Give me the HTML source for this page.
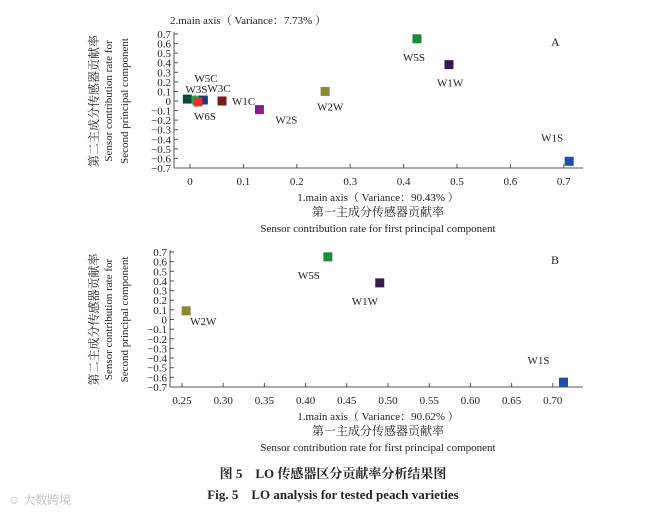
<!DOCTYPE html>
<html><head><meta charset="utf-8"><style>
body{margin:0;background:#fff;width:665px;height:513px;overflow:hidden}
svg{display:block}
text{font-family:"Liberation Serif","Noto Serif CJK SC",serif;fill:#222}
</style></head><body>
<svg id="svg" width="665" height="513">
<g id="top"></g>
<g id="bot"></g>
<text x="333" y="478" font-size="13" font-weight="bold" text-anchor="middle">图 5　LO 传感器区分贡献率分析结果图</text>
<text x="333" y="499" font-size="13" font-weight="bold" text-anchor="middle">Fig. 5　LO analysis for tested peach varieties</text>
<text x="8" y="504" font-size="12" fill="#bbb" style="fill:#bbb">☺ 大数跨境</text>
</svg>
<script>
const aNames=["W3S","W5C","W3C","W6S","W1C","W2S","W2W","W5S","W1W","W1S"];
const aX=[-0.005,0.012,0.025,0.015,0.06,0.13,0.253,0.425,0.485,0.71];
const aY=[0.02,0.01,0.01,-0.01,0,-0.09,0.1,0.65,0.38,-0.63];
const aColors=["#0b4a3a","#2fa84a","#1a3a7a","#d33","#7a1a1a","#8a1a8a","#8a8a30","#1e8a3a","#3a1a4a","#1e4fa8"];
const aLabelDX=[-2,-2,4,-4,10,16,-8,-14,-12,-28];
const aLabelDY=[-6,-18,-8,18,4,14,19,22,22,-20];
const aXTicks=[0,0.1,0.2,0.3,0.4,0.5,0.6,0.7];
const bNames=["W2W","W5S","W1W","W1S"];
const bX=[0.255,0.427,0.49,0.713];
const bY=[0.09,0.65,0.38,-0.65];
const bColors=["#8a8a30","#1e8a3a","#3a1a4a","#1e4fa8"];
const bLabelDX=[4,-30,-28,-36];
const bLabelDY=[14,22,22,-18];
const bXTicks=[0.25,0.30,0.35,0.40,0.45,0.50,0.55,0.60,0.65,0.70];
const yTicks=[0.7,0.6,0.5,0.4,0.3,0.2,0.1,0,-0.1,-0.2,-0.3,-0.4,-0.5,-0.6,-0.7];
const NS="http://www.w3.org/2000/svg";
function el(p,t,a,txt){const e=document.createElementNS(NS,t);for(const k in a)e.setAttribute(k,a[k]);if(txt!==undefined)e.textContent=txt;p.appendChild(e);return e;}
function chart(g,o){
 const xs=v=>o.x0+(v-o.xmin)*o.xs, ys=v=>o.ymid-v*o.yk;
 const yl=el(g,'line',{x1:o.ax,y1:ys(0.7)-2,x2:o.ax,y2:ys(-0.7),stroke:'#555'});
 
 
 const xl=el(g,'line',{x1:o.ax,y1:ys(-0.7),x2:o.xend,y2:ys(-0.7),stroke:'#555'});
 
 
 yTicks.forEach(v=>{const y=ys(v);el(g,'line',{x1:o.ax,y1:y,x2:o.ax+4,y2:y,stroke:'#555'});
  const t=el(g,'text',{x:o.ax-3,y:y+4,'font-size':11,'text-anchor':'end'},(v<0?'−':'')+(v===0?'0':Math.abs(v).toFixed(1)));
  
  });
 o.xt.forEach(v=>{const x=xs(v);el(g,'line',{x1:x,y1:ys(-0.7),x2:x,y2:ys(-0.7)-4,stroke:'#555'});
  const t=el(g,'text',{x:x,y:ys(-0.7)+17,'font-size':11,'text-anchor':'middle'},v===0?'0':v.toFixed(o.dec));
  
  });
 o.names.forEach((n,i)=>{const x=xs(o.X[i]),y=ys(o.Y[i]);
  const r=el(g,'rect',{x:x-4.5,y:y-4.5,width:9,height:9,fill:o.c[i]});
  
  
  const t=el(g,'text',{x:x+o.dx[i],y:y+o.dy[i],'font-size':11},n);
  
  });
 const b=ys(-0.7);
 [[o.xlab,b+33,11],["第一主成分传感器贡献率",b+48,12],["Sensor contribution rate for first principal component",b+64,11]].forEach((a,i)=>{
  const t=el(g,'text',{x:o.cx,y:a[1],'font-size':a[2],'text-anchor':'middle'},a[0]);
  
  });
 const yc=(ys(0.7)+ys(-0.7))/2;
 [["第二主成分传感器贡献率",98,12],["Sensor contribution rate for",112,11],["Second principal component",128,11]].forEach((a,i)=>{
  const t=el(g,'text',{x:0,y:0,'font-size':a[2],'text-anchor':'middle',transform:`translate(${a[1]},${yc}) rotate(-90)`},a[0]);
  
  });
 const L=el(g,'text',{x:o.letterX,y:ys(0.7)+12,'font-size':12},o.letter);
 
 
}
chart(document.getElementById('top'),{x0:190,xmin:0,xs:534,ymid:101,yk:95.7,ax:174,xend:583,xt:aXTicks,dec:1,names:aNames,X:aX,Y:aY,c:aColors,dx:aLabelDX,dy:aLabelDY,xlab:"1.main axis（ Variance：90.43% ）",cx:378,letter:"A",letterX:551});
const t2=el(document.getElementById('top'),'text',{x:170,y:24,'font-size':11},"2.main axis（ Variance：7.73% ）");


chart(document.getElementById('bot'),{x0:182,xmin:0.25,xs:824,ymid:319.5,yk:96.4,ax:170,xend:583,xt:bXTicks,dec:2,names:bNames,X:bX,Y:bY,c:bColors,dx:bLabelDX,dy:bLabelDY,xlab:"1.main axis（ Variance：90.62% ）",cx:378,letter:"B",letterX:551});
</script>
</body></html>
